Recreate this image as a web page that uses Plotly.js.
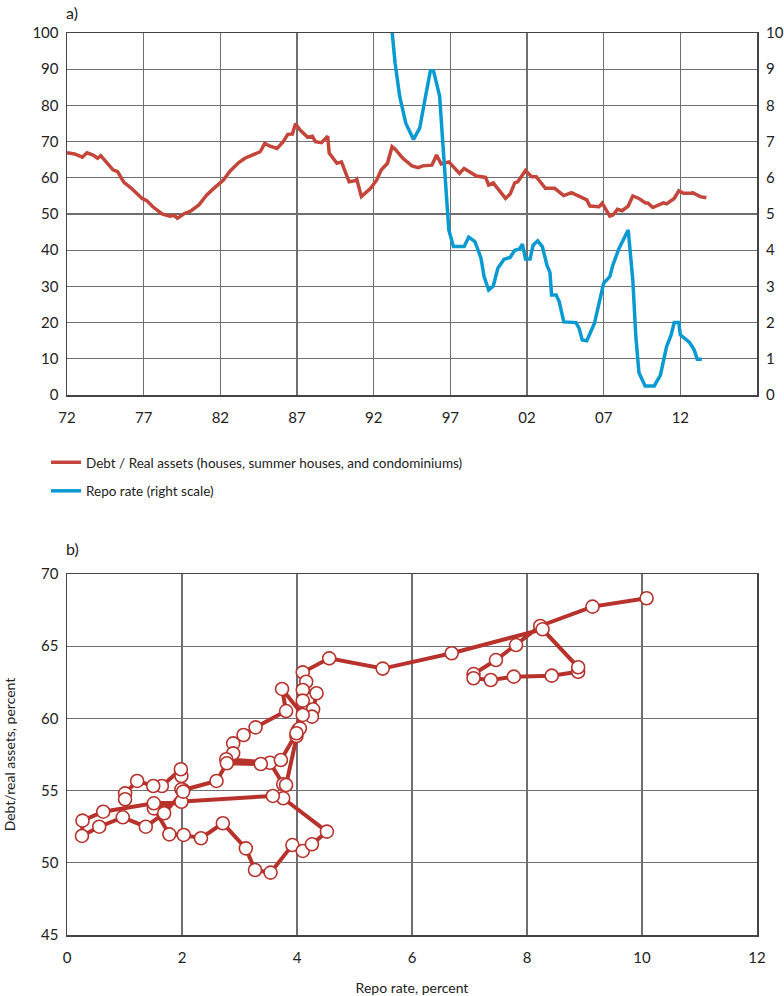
<!DOCTYPE html>
<html>
<head>
<meta charset="utf-8">
<script src="https://cdn.plot.ly/plotly-3.0.1.min.js"></script>
<style>html,body{margin:0;padding:0;background:#fff;}#chart{width:784px;height:996px;}</style>
</head>
<body>
<div id="chart"></div>
<script>
// ---- Panel a) time series ----
const debtYears = [1972.0,1972.5,1973.0,1973.3,1973.7,1974.0,1974.2,1974.6,1975.0,1975.3,1975.7,1976.2,1976.9,1977.2,1977.6,1978.2,1978.7,1979.0,1979.2,1979.6,1980.1,1980.6,1981.1,1981.5,1982.2,1982.6,1983.2,1983.6,1984.2,1984.6,1984.9,1985.2,1985.7,1986.1,1986.4,1986.7,1986.9,1987.2,1987.7,1988.0,1988.2,1988.6,1989.0,1989.1,1989.6,1989.9,1990.4,1990.8,1990.9,1991.2,1991.8,1992.2,1992.5,1992.9,1993.2,1993.4,1993.9,1994.5,1994.9,1995.2,1995.8,1996.1,1996.4,1996.9,1997.6,1997.9,1998.7,1999.3,1999.5,1999.8,2000.6,2000.9,2001.2,2001.4,2001.9,2002.3,2002.6,2003.2,2003.8,2004.4,2004.9,2005.4,2005.9,2006.1,2006.7,2006.9,2007.4,2007.6,2007.9,2008.2,2008.6,2008.9,2009.3,2009.7,2009.9,2010.2,2010.6,2010.9,2011.1,2011.6,2011.9,2012.2,2012.7,2012.8,2013.3,2013.7];
const debtValues = [66.9,66.6,65.7,66.9,66.3,65.4,66.1,64.2,62.2,61.7,58.8,57.1,54.3,53.7,52.0,50.0,49.4,49.6,48.8,50.0,50.9,52.5,55.2,56.8,59.4,61.7,64.2,65.4,66.6,67.2,69.5,68.8,68.1,70.0,72.0,72.1,74.9,73.2,71.2,71.5,70.0,69.7,71.5,66.8,64.0,64.4,58.9,59.2,59.6,54.8,57.1,59.4,62.2,64.0,68.6,67.9,65.4,63.3,62.8,63.3,63.5,66.3,63.8,64.4,61.2,62.6,60.5,60.1,58.0,58.6,54.3,55.5,58.6,58.9,62.0,60.3,60.3,57.1,57.1,55.1,55.9,55.0,53.9,52.2,52.0,53.0,49.4,49.7,51.3,50.9,52.2,55.0,54.3,53.1,53.0,51.8,52.5,53.1,52.8,54.3,56.4,55.7,55.7,55.9,54.8,54.5];

const repoYears = [1993.1,1993.2,1993.4,1993.7,1994.1,1994.6,1995.0,1995.3,1995.7,1995.9,1996.3,1996.9,1997.2,1997.9,1998.2,1998.6,1999.0,1999.2,1999.5,1999.8,2000.1,2000.5,2000.9,2001.2,2001.5,2001.7,2001.9,2002.2,2002.4,2002.7,2003.0,2003.3,2003.5,2003.6,2003.9,2004.1,2004.4,2005.2,2005.4,2005.6,2005.9,2006.4,2006.7,2007.0,2007.4,2007.6,2008.0,2008.3,2008.6,2008.9,2009.1,2009.3,2009.7,2010.3,2010.7,2011.1,2011.4,2011.6,2011.9,2012.0,2012.6,2012.9,2013.1,2013.4];
const repoValues = [10.5,10.04,9.16,8.24,7.5,7.06,7.37,8.06,8.96,8.96,8.26,4.56,4.10,4.10,4.36,4.24,3.78,3.27,2.90,3.01,3.50,3.75,3.80,4.00,4.03,4.17,3.76,3.76,4.14,4.26,4.10,3.59,3.38,2.76,2.76,2.58,2.02,2.00,1.84,1.52,1.50,1.98,2.49,3.09,3.27,3.59,4.05,4.28,4.56,3.18,1.61,0.62,0.25,0.25,0.55,1.33,1.66,2.00,2.00,1.66,1.45,1.25,0.99,0.99];

const yearTickVals = [1972,1977,1982,1987,1992,1997,2002,2007,2012];
const yearTickText = ['72','77','82','87','92','97','02','07','12'];

// ---- Panel b) repo rate vs debt ratio ----
const scatterRepo = [10.08,9.14,8.23,7.81,7.46,7.07,7.07,7.37,7.77,8.43,8.89,8.89,8.27,6.69,5.49,4.56,4.10,4.16,4.10,4.34,4.28,4.26,4.10,3.74,3.81,3.28,3.07,2.89,2.89,2.77,3.53,3.76,3.81,3.99,4.02,4.05,4.10,3.99,3.72,3.37,2.78,2.60,2.02,1.99,1.99,1.51,1.78,2.03,2.33,2.71,3.11,3.27,3.54,3.92,4.10,4.26,4.52,3.76,3.58,1.51,0.63,0.27,0.26,0.56,0.97,1.37,1.69,2.02,1.99,1.98,1.65,1.50,1.22,1.01,1.01];
const scatterDebt = [68.32,67.74,66.40,65.08,64.04,63.07,62.78,62.66,62.89,62.96,63.23,63.54,66.17,64.51,63.45,64.16,63.19,62.54,61.97,61.74,60.63,60.12,60.24,62.04,60.51,59.38,58.85,58.27,57.58,57.17,56.93,55.44,55.39,58.78,59.20,59.31,61.23,58.97,57.12,56.84,56.89,55.67,55.04,55.09,54.23,53.77,51.97,51.93,51.70,52.74,51.00,49.50,49.32,51.23,50.82,51.28,52.16,54.47,54.63,54.12,53.54,52.92,51.86,52.50,53.15,52.50,53.43,54.93,56.01,56.48,55.32,55.32,55.67,54.81,54.40];

const FONT = 'Lato, "Liberation Sans", sans-serif';
const GRID = '#6f6f6f';
const RED_A = '#c4463a';
const BLUE = '#0a9ad2';
const RED_B = '#b8322c';

const traces = [
  {x: debtYears, y: debtValues, type: 'scatter', mode: 'lines', xaxis: 'x', yaxis: 'y',
   name: 'Debt / Real assets (houses, summer houses, and condominiums)',
   line: {color: RED_A, width: 3.5}, legendgroup: 'a'},
  {x: repoYears, y: repoValues, type: 'scatter', mode: 'lines', xaxis: 'x', yaxis: 'y2',
   name: 'Repo rate (right scale)', line: {color: BLUE, width: 3.5}, legendgroup: 'b'},
  {x: scatterRepo, y: scatterDebt, type: 'scatter', mode: 'lines+markers', xaxis: 'x2', yaxis: 'y3',
   showlegend: false, line: {color: RED_B, width: 4},
   marker: {size: 13, color: '#ffffff', line: {color: RED_B, width: 1.6}}, cliponaxis: false}
];

const W = 784, H = 996;
const xd = [67/W, 757/W];
const TICKFONT = {family: FONT, size: 15, color: '#222'};
const axisCommon = {
  showgrid: true, gridcolor: GRID, gridwidth: 1.3,
  showline: true, linecolor: '#444', linewidth: 1.5, mirror: true,
  zeroline: false, ticks: '', automargin: false,
  tickfont: TICKFONT
};

const layout = {
  width: W, height: H,
  margin: {l: 0, r: 0, t: 0, b: 0},
  paper_bgcolor: '#fff', plot_bgcolor: '#fff',
  font: {family: FONT, size: 15, color: '#222'},
  showlegend: true,
  legend: {x: 46/W, y: 1 - 447/H, xanchor: 'left', yanchor: 'top',
           font: {family: FONT, size: 13.5, color: '#222'},
           traceorder: 'grouped', tracegroupgap: 8, bgcolor: 'rgba(0,0,0,0)'},
  xaxis: Object.assign({}, axisCommon, {domain: xd, anchor: 'y', range: [1972, 2017],
         tickmode: 'array', tickvals: yearTickVals, ticktext: yearTickText, ticklabelstandoff: 8}),
  yaxis: Object.assign({}, axisCommon, {domain: [1 - 395/H, 1 - 33/H], anchor: 'x',
         range: [0, 100], dtick: 10, tick0: 0, ticklabelstandoff: 4}),
  yaxis2: {overlaying: 'y', side: 'right', anchor: 'x', range: [0, 10], dtick: 1, tick0: 0,
         showgrid: false, zeroline: false, showline: false, ticks: '', automargin: false,
         ticklabelstandoff: 8, tickfont: TICKFONT},
  xaxis2: Object.assign({}, axisCommon, {domain: xd, anchor: 'y3', range: [0, 12], dtick: 2, tick0: 0,
         ticklabelstandoff: 8,
         title: {text: 'Repo rate, percent', font: {family: FONT, size: 14, color: '#222'}, standoff: 18}}),
  yaxis3: Object.assign({}, axisCommon, {domain: [1 - 935/H, 1 - 574/H], anchor: 'x2',
         range: [45, 70], dtick: 5, tick0: 45, ticklabelstandoff: 4,
         title: {text: 'Debt/real assets, percent', font: {family: FONT, size: 14, color: '#222'}, standoff: 22}}),
  annotations: [
    {text: 'a)', xref: 'paper', yref: 'paper', x: 64/W, y: 1 - 12/H, xanchor: 'left', yanchor: 'middle',
     showarrow: false, font: {family: FONT, size: 16, color: '#222'}},
    {text: 'b)', xref: 'paper', yref: 'paper', x: 64/W, y: 1 - 548/H, xanchor: 'left', yanchor: 'middle',
     showarrow: false, font: {family: FONT, size: 16, color: '#222'}}
  ]
};

Plotly.newPlot('chart', traces, layout, {displayModeBar: false, staticPlot: true});
</script>
</body>
</html>
